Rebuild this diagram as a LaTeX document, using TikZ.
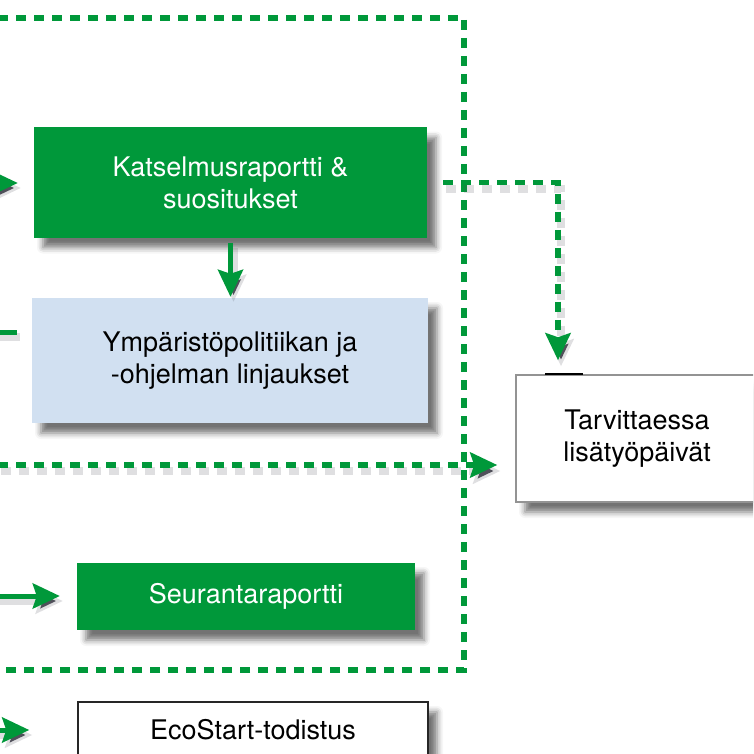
\documentclass[tikz,border=0pt]{standalone}
\usepackage{fontspec}
\setmainfont{TeX Gyre Heros}
\usetikzlibrary{arrows.meta,shadows.blur}
\definecolor{egreen}{RGB}{0,152,58}
\definecolor{lblue}{RGB}{209,224,241}
\definecolor{shadowgray}{RGB}{80,80,90}
\tikzset{
  boxshadow/.style={blur shadow={shadow xshift=9pt,shadow yshift=-10pt,shadow blur radius=6pt,shadow opacity=55}},
  basebox/.style={boxshadow, align=center, inner sep=0pt, font=\fontsize{27}{32}\selectfont},
  greenbox/.style={basebox, fill=egreen, text=white},
  bluebox/.style={basebox, fill=lblue, text=black},
  whitebox/.style={basebox, fill=white, text=black, draw=#1, line width=1.5pt},
  gtip/.style={-{Stealth[length=27pt,width=25pt,inset=4pt]}},
  lshadow/.style={preaction={draw=shadowgray, draw opacity=0.18, line width=8pt, transform canvas={shift={(3pt,-5pt)}}}},
  dshadow/.style={preaction={draw=shadowgray, draw opacity=0.18, line width=8pt, dash pattern=on 10pt off 8pt, transform canvas={shift={(3pt,-6pt)}}}},
  garrow/.style={lshadow, draw=egreen, line width=5pt, gtip},
  gdash/.style={draw=egreen, line width=5.5pt, dash pattern=on 10pt off 8pt},
  gdasharrow/.style={dshadow, gdash, gtip},
}
\begin{document}
\begin{tikzpicture}[x=1pt,y=-1pt]
\useasboundingbox (0,0) rectangle (753,754);
\clip (0,0) rectangle (753,754);
% dashed frame
\draw[gdash] (-20,18) -- (464,18) -- (464,670) -- (-20,670);
% nodes
\node[greenbox, minimum width=393pt, minimum height=110pt] (kat) at (230.5,182.5) {Katselmusraportti \&\\suositukset};
\node[bluebox, minimum width=396pt, minimum height=125pt] (ymp) at (230,360.5) {Ympäristöpolitiikan ja\\-ohjelman linjaukset};
\node[whitebox=gray!85, minimum width=242pt, minimum height=127pt] (tar) at (637,438.5) {Tarvittaessa\\lisätyöpäivät};
\node[greenbox, minimum width=338pt, minimum height=67pt] (seu) at (246,596.5) {Seurantaraportti};
\node[whitebox=black!85, minimum width=350pt, minimum height=56pt] (eco) at (253,730) {EcoStart-todistus};
% mark on top of tar
\draw[black, line width=2pt] ([xshift=30pt]tar.north west) -- ([xshift=68pt]tar.north west);
% incoming arrows from the left
\coordinate (inA) at (-30,183);
\coordinate (inB) at (-10,332);
\coordinate (inC) at (-20,596);
\coordinate (inD) at (-20,730);
\coordinate (inE) at (-20,465);
\draw[garrow] (inA) -- ([xshift=-16pt]kat.west |- inA);
\draw[lshadow, draw=egreen, line width=5pt] (inB) -- ([xshift=-15pt]ymp.west |- inB);
\draw[garrow] (inC) -- ([xshift=-17pt]seu.west |- inC);
\draw[garrow] (inD) -- ([xshift=-48pt]eco.west |- inD);
% kat -> ymp
\draw[garrow] ([yshift=-5pt]kat.south) -- ([yshift=1pt]kat.south |- ymp.north);
% dashed arrows
\draw[gdasharrow] ([xshift=16pt]kat.east) -| ([xshift=-79pt,yshift=14pt]tar.north);
\draw[gdasharrow] (inE) -- ([xshift=-18pt]tar.west |- inE);
\end{tikzpicture}
\end{document}
